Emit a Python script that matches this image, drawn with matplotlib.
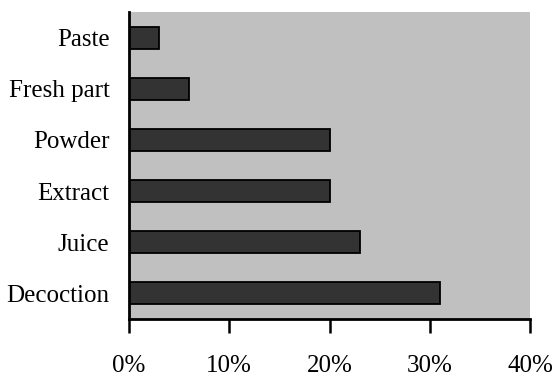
import matplotlib
matplotlib.use("Agg")
import matplotlib.pyplot as plt

categories = ["Decoction", "Juice", "Extract", "Powder", "Fresh part", "Paste"]
values = [31, 23, 20, 20, 6, 3]
xticks = [0, 10, 20, 30, 40]
xtick_labels = ["0%", "10%", "20%", "30%", "40%"]

plt.rcParams["font.family"] = ["Liberation Serif", "DejaVu Serif"]

fig = plt.figure(figsize=(5.56, 3.85), dpi=100)
ax = fig.add_axes([129 / 556, 66 / 385, 401 / 556, 307 / 385])
ax.set_facecolor("#c0c0c0")

ax.barh(range(len(categories)), values, height=0.43, color="#333333",
        edgecolor="black", linewidth=1.3)

ax.set_xlim(0, 40)
ax.set_ylim(-0.5, len(categories) - 0.5)
ax.set_xticks(xticks)
ax.set_xticklabels(xtick_labels, fontsize=18)
ax.set_yticks(range(len(categories)))
ax.set_yticklabels(categories, fontsize=18)

ax.tick_params(axis="x", direction="out", length=10, width=1.8, pad=16)
ax.tick_params(axis="y", length=0, pad=14)

for side in ("top", "right"):
    ax.spines[side].set_visible(False)
for side in ("left", "bottom"):
    ax.spines[side].set_linewidth(2)

fig.savefig("out.png", dpi=100, facecolor="white")
